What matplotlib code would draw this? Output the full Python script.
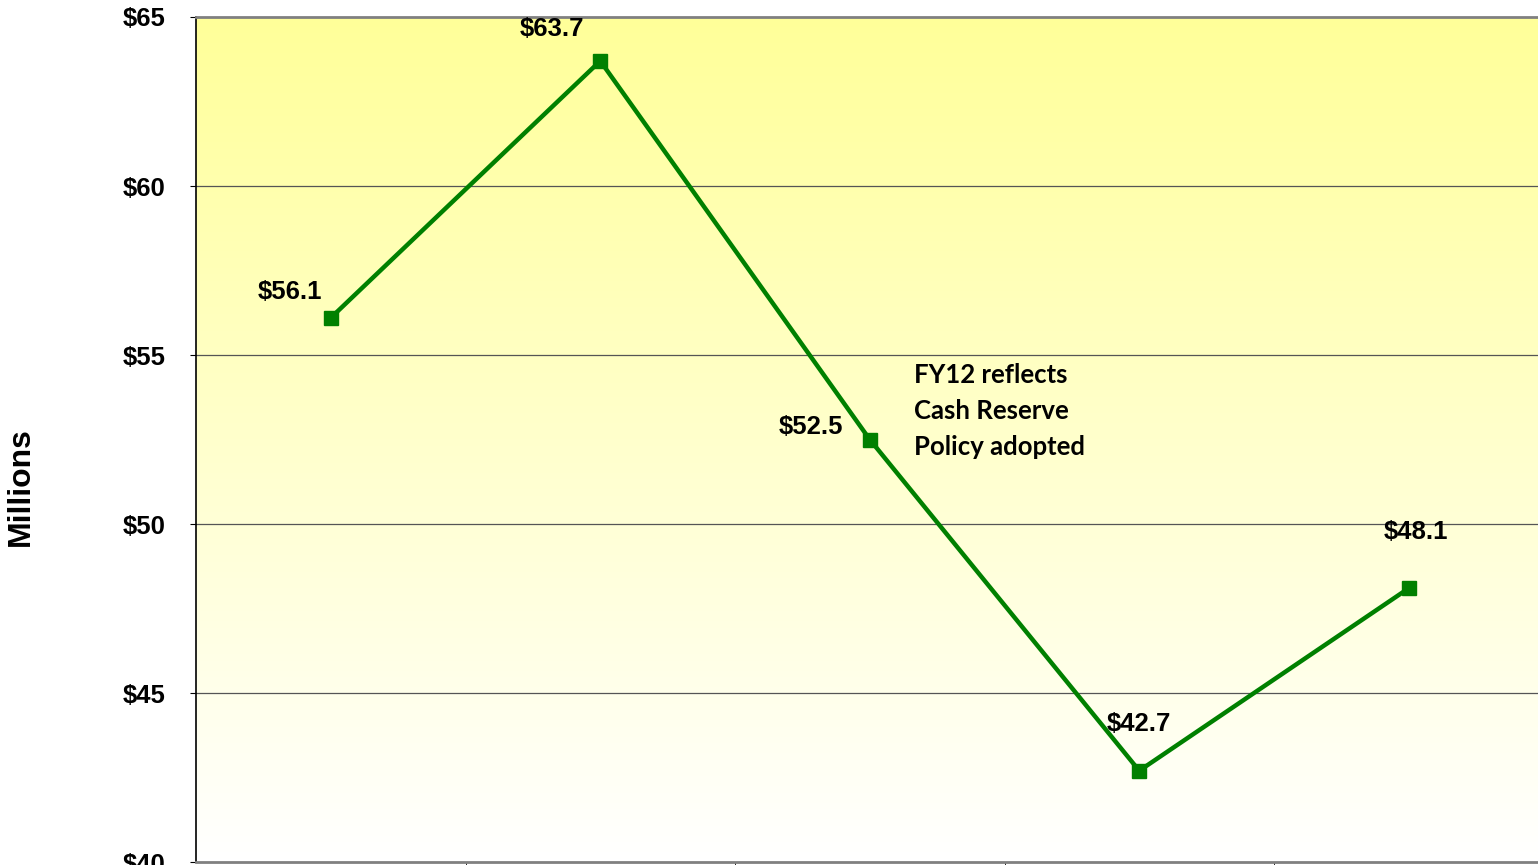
import numpy as np
import matplotlib.pyplot as plt

plt.rcParams['font.family'] = ['Liberation Sans', 'DejaVu Sans']

years = ['FY10', 'FY11', 'FY12', 'FY13', 'FY14']
reserve = [56.1, 63.7, 52.5, 42.7, 48.1]
yticks = [40, 45, 50, 55, 60, 65]
# label offsets in pixels (hand placed, like the original)
offsets = [(-41, -26), (-48, -32), (-59, -13), (0, -47), (7, -56)]

fig = plt.figure(figsize=(15.38, 8.65), dpi=100)
ax = fig.add_axes([196 / 1538, 3 / 865, 1347.5 / 1538, 845 / 865])

x = np.arange(len(years))
ax.set_xlim(-0.5, len(years) - 0.5)
ax.set_ylim(40, 65)

# yellow to white background
grad = np.linspace(0, 1, 256).reshape(-1, 1)
top = np.array([1.0, 1.0, 0.6])
bot = np.array([1.0, 1.0, 1.0])
img = top * (1 - grad)[:, :, None] + bot * grad[:, :, None]
ax.imshow(img, extent=[-0.5, len(years) - 0.5, 40, 65], aspect='auto', zorder=0)

for v in yticks[1:-1]:
    ax.axhline(v, color='#555555', lw=0.9, zorder=1)

ax.plot(x, reserve, color='#008000', lw=3.2, marker='s', markersize=10, zorder=3)

for xi, v, (dx, dy) in zip(x, reserve, offsets):
    ax.annotate('$%.1f' % v, (xi, v), xytext=(dx * 0.72, -dy * 0.72),
                textcoords='offset points', ha='center', va='center',
                fontsize=18.5, fontweight='bold')

ax.text(2.165, 54.75, 'FY12 reflects\nCash Reserve\nPolicy adopted', family=['Lato', 'DejaVu Sans'],
        fontsize=18.5, fontweight='bold', va='top', ha='left', linespacing=1.6)

ax.set_yticks(yticks)
ax.set_yticklabels(['$%d' % t for t in yticks], fontsize=18.5, fontweight='bold')
ax.tick_params(axis='y', length=4, pad=18, direction='out')
ax.set_xticks([])
ax.set_xticks(x[:-1] + 0.5, minor=True)
ax.tick_params(axis='x', which='minor', length=5, direction='out')

ax.spines['top'].set_color('#808080')
ax.spines['top'].set_linewidth(2)
ax.spines['left'].set_color('black')
ax.spines['left'].set_linewidth(1.2)
ax.spines['bottom'].set_color('#808080')
ax.spines['bottom'].set_linewidth(2)
ax.spines['right'].set_visible(False)

fig.text(21 / 1538, 1 - 487 / 865, 'Millions', rotation=90, fontsize=23, fontweight='bold',
         ha='center', va='center')

fig.savefig('out.png', dpi=100)
